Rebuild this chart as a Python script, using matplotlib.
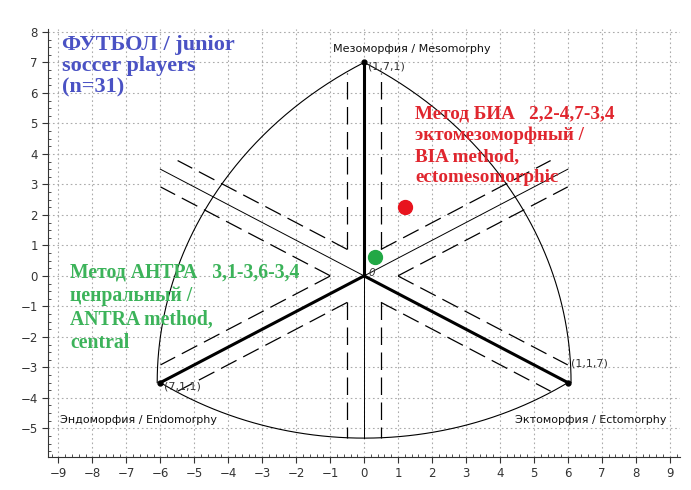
import numpy as np
import matplotlib
matplotlib.use("Agg")
from matplotlib import pyplot as plt

# somatochart frame (chart coordinates)
apex_x = [0.0, -6.0, 6.0]
apex_y = [7.0, -3.5, -3.5]
apex_labels = ["(1,7,1)", "(7,1,1)", "(1,1,7)"]
apex_label_x = [0.12, -5.88, 6.1]
apex_label_y = [6.88, -3.62, -2.86]

# thin extensions of the axes through the origin
ext_x = [0.0, 6.0, -6.0]
ext_y = [-5.33, 3.5, 3.5]

# dashed parallels: offset from each axis line and where they stop
band_offset = 0.5
band_end = [6.65, 6.65, 6.65, 5.33, 6.65, 6.65]

# bottom arc (centre on the vertical axis)
bottom_arc_cy = 5.48

axis_names = ["Мезоморфия / Mesomorphy", "Эндоморфия / Endomorphy", "Эктоморфия / Ectomorphy"]
axis_name_x = [-0.92, -8.95, 4.45]
axis_name_y = [7.45, -4.73, -4.73]

# group means (x, y on the chart)
groups = ["BIA", "ANTRA"]
group_x = [1.19, 0.32]
group_y = [2.27, 0.63]
group_colors = ["#e8141e", "#22a845"]

fig = plt.figure(figsize=(6.91, 4.90), dpi=100)
ax = fig.add_axes([0.0699, 0.0673, 0.9141, 0.8737])
ax.set_xlim(-9.3, 9.3)
ax.set_ylim(-5.94, 8.1)

ax.set_xticks(np.arange(-9, 10))
ax.set_yticks(np.arange(-5, 9))
ax.set_xticks(np.arange(-9.2, 9.3, 0.2), minor=True)
ax.set_yticks(np.arange(-5.75, 8.1, 0.25), minor=True)
ax.tick_params(axis="both", which="major", direction="out", length=4, labelsize=8.5,
               colors="#333333", width=0.8)
ax.tick_params(axis="both", which="minor", direction="in", length=2.5, colors="#333333", width=0.6)
for s in ["top", "right"]:
    ax.spines[s].set_visible(False)
for s in ["left", "bottom"]:
    ax.spines[s].set_color("#333333")
ax.grid(True, which="major", color="#ababab", linestyle=(0, (1.5, 2.5)), linewidth=0.8)
ax.set_axisbelow(True)

# arcs of the outline
R = np.hypot(apex_x[0] - apex_x[2], apex_y[0] - apex_y[2])
a0 = np.arctan2(apex_y[0] - apex_y[2], apex_x[0] - apex_x[2])
th = np.linspace(a0, np.pi, 200)
ax.plot(apex_x[2] + R * np.cos(th), apex_y[2] + R * np.sin(th), color="black", lw=0.8)
th = np.linspace(0, np.pi - a0, 200)
ax.plot(apex_x[1] + R * np.cos(th), apex_y[1] + R * np.sin(th), color="black", lw=0.8)
Rb = np.hypot(apex_x[2], apex_y[2] - bottom_arc_cy)
b0 = np.arctan2(apex_y[1] - bottom_arc_cy, apex_x[1])
b1 = np.arctan2(apex_y[2] - bottom_arc_cy, apex_x[2])
th = np.linspace(b0, b1, 200)
ax.plot(Rb * np.cos(th), bottom_arc_cy + Rb * np.sin(th), color="black", lw=0.8)

# dashed bands along every direction
dirs = list(zip(apex_x, apex_y)) + list(zip(ext_x, ext_y))
t0 = band_offset / np.tan(np.radians(30))
for (dx, dy), t_end in zip(dirs, band_end):
    L = np.hypot(dx, dy)
    u = np.array([dx, dy]) / L
    n = np.array([-u[1], u[0]])
    for sgn in (1, -1):
        p0 = t0 * u + sgn * band_offset * n
        p1 = t_end * u + sgn * band_offset * n
        ax.plot([p0[0], p1[0]], [p0[1], p1[1]], color="black", lw=0.9,
                linestyle=(0, (14, 6)))

# thin extensions and thick axes
for x, y in zip(ext_x, ext_y):
    ax.plot([0, x], [0, y], color="black", lw=0.7)
for x, y in zip(apex_x, apex_y):
    ax.plot([0, x], [0, y], color="black", lw=2.2, solid_capstyle="round")
ax.plot(apex_x, apex_y, "o", color="black", ms=3.5, linestyle="none")

for lab, x, y in zip(apex_labels, apex_label_x, apex_label_y):
    ax.text(x, y, lab, fontsize=8, color="#333333", va="center", ha="left")
ax.text(0.12, 0.1, "0", fontsize=7.5, color="#333333", va="center", ha="left", style="italic")

for lab, x, y in zip(axis_names, axis_name_x, axis_name_y):
    ax.text(x, y, lab, fontsize=8, color="#111111", va="center", ha="left")

for x, y, c in zip(group_x, group_y, group_colors):
    ax.plot(x, y, "o", color=c, ms=10, zorder=5)

serif = "Liberation Serif"
ax.text(-8.9, 7.9, "ФУТБОЛ / junior\nsoccer players\n(n=31)", fontsize=16, color="#4a52c4",
        fontweight="bold", family=serif, va="top", ha="left", linespacing=1.08)
ax.text(1.5, 5.58, "Метод БИА   2,2-4,7-3,4\nэктомезоморфный /\nBIA method,\nectomesomorphic",
        fontsize=13.8, color="#e0262e", fontweight="bold", family=serif, va="top", ha="left",
        linespacing=1.3)
ax.text(-8.66, 0.45, "Метод АНТРА   3,1-3,6-3,4\nценральный /\nANTRA method,\ncentral",
        fontsize=14.2, color="#3cb35a", fontweight="bold", family=serif, va="top", ha="left",
        linespacing=1.24)

fig.savefig("out.png", dpi=100)
